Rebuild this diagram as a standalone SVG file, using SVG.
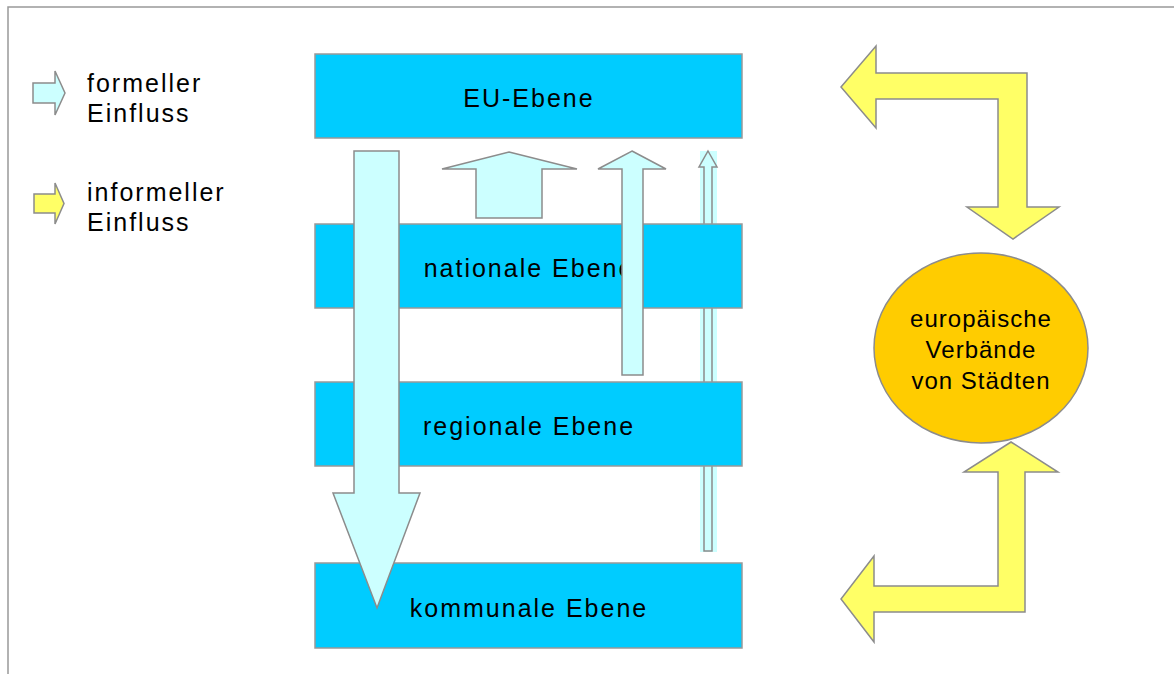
<svg xmlns="http://www.w3.org/2000/svg" width="1174" height="674" viewBox="0 0 1174 674">
<style>
text{font-family:"Liberation Sans",Arial,sans-serif;font-size:25px;letter-spacing:2px;fill:#000}
.box{fill:#00ccff;stroke:#999;stroke-width:1.5}
.cy{fill:#ccffff;stroke:#8c8c8c;stroke-width:1.5;stroke-linejoin:miter}
.ye{fill:#ffff66;stroke:#8c8c8c;stroke-width:1.5}
.mid{text-anchor:middle}
.el{font-size:24px;letter-spacing:1px}
</style>
<rect x="0" y="0" width="1174" height="674" fill="#fff"/>
<path d="M8,674 V7 H1174" fill="none" stroke="#999" stroke-width="1.5"/>
<g id="legend">
<polygon class="cy" points="33,83 55,83 55,71 65,93 55,115 55,103 33,103"/>
<text x="87" y="92">formeller</text>
<text x="87" y="122">Einfluss</text>
<polygon class="ye" points="34,194 55,194 55,183 64,203.5 55,224 55,213 34,213"/>
<text x="87" y="201">informeller</text>
<text x="87" y="231">Einfluss</text>
</g>
<g id="connectors-back">
<rect x="700" y="151" width="17" height="401" fill="#ccffff"/>
<polygon class="cy" points="708,151 717,167 712,167 712,551 704,551 704,167 699,167"/>
</g>
<g id="eu">
<rect class="box" x="315" y="54" width="427" height="84"/>
<text class="mid" x="529" y="107">EU-Ebene</text>
</g>
<g id="national">
<rect class="box" x="315" y="224" width="427" height="84"/>
<text class="mid" x="529" y="277">nationale Ebene</text>
</g>
<g id="regional">
<rect class="box" x="315" y="382" width="427" height="84"/>
<text class="mid" x="529" y="435">regionale Ebene</text>
</g>
<g id="kommunal">
<rect class="box" x="315" y="563" width="427" height="85"/>
<text class="mid" x="529" y="617">kommunale Ebene</text>
</g>
<g id="verbaende">
<ellipse cx="981" cy="348" rx="107" ry="95" fill="#ffcc00" stroke="#8c8c8c" stroke-width="1.5"/>
<text class="mid el" x="981" y="327">europäische</text>
<text class="mid el" x="981" y="358">Verbände</text>
<text class="mid el" x="981" y="389">von Städten</text>
</g>
<g id="connectors">
<polygon class="cy" points="509,152 577,169 542,169 542,218 476,218 476,169 442,169"/>
<polygon class="cy" points="632,151 666,169 643,169 643,375 622,375 622,169 598,169"/>
<polygon class="cy" points="354,151 399,151 399,493 420,493 377,608 333,493 354,493"/>
<polygon class="ye" points="841,87 876,46 876,73 1027,73 1027,207 1059,207 1013,239 967,207 998,207 998,99 876,99 876,128"/>
<polygon class="ye" points="1011,442 1058,472 1025,472 1025,612 874,612 874,642 841,599 874,556 874,586 998,586 998,472 964,472"/>
</g>
</svg>
